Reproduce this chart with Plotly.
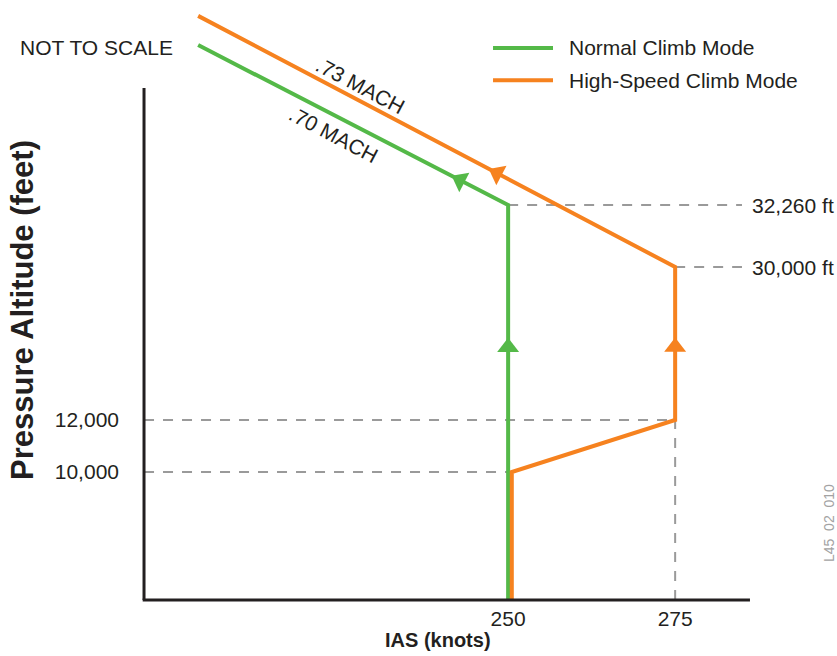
import numpy as np
import plotly.graph_objects as go

# ---------------------------------------------------------------- data
ias_ticks = [250, 275]
ias_tick_labels = ["250", "275"]

alt_ticks = [10000, 12000]
alt_tick_labels = ["10,000", "12,000"]

alt_callouts = [32260, 30000]
alt_callout_labels = ["32,260 ft", "30,000 ft"]

# Normal climb: 250 kt up to the 0.70 Mach crossover, then constant Mach
normal_ias = [250, 250, 203.6]
normal_alt = [0, 32260, 38300]

# High-speed climb: 250 kt to 10,000 ft, accelerate to 275 kt by 12,000 ft,
# 275 kt to the 0.73 Mach crossover, then constant Mach
high_ias = [250, 250, 275, 275, 203.6]
high_alt = [0, 10000, 12000, 30000, 39400]

mach_labels = [".70 MACH", ".73 MACH"]
series_names = ["Normal Climb Mode", "High-Speed Climb Mode"]

# ---------------------------------------------------------------- styling
GREEN = "#54B948"
ORANGE = "#F6821F"
INK = "#231F20"
GUIDE = "#9A9A9A"
FONT = "Liberation Sans, Arial, Helvetica, sans-serif"
LINE_W = 4
ARROW_SIZE = 19

W, H = 837, 656
MARGIN = dict(l=134, r=75, t=0, b=44)

# The altitude axis is deliberately not to scale: piecewise-linear
# drawing heights for the altitude breakpoints.
SKETCH_ALT = [0, 10000, 12000, 30000, 32260, 40000]
SKETCH_H = [0, 128, 180, 333, 395, 600]


def sy(alt):
    return np.interp(alt, SKETCH_ALT, SKETCH_H)


X_RANGE = [194, 288]
Y_RANGE = [-12, 600]
AXIS_X = 195.5        # where the vertical axis line sits
X_AXIS_END = 286.2    # right end of the horizontal axis line
Y_AXIS_TOP = 512      # top of the vertical axis line (drawing units)
CALLOUT_X = 285       # right end of the callout guides
SIDE_OFFSET = 0.55    # keeps the two 250 kt legs side by side

# screen pixels per data unit, used to orient the arrow heads
PX_X = (W - MARGIN["l"] - MARGIN["r"]) / (X_RANGE[1] - X_RANGE[0])
PX_Y = (H - MARGIN["t"] - MARGIN["b"]) / (Y_RANGE[1] - Y_RANGE[0])

nx = np.array(normal_ias, dtype=float)
ny = sy(normal_alt)
hx = np.array([v + SIDE_OFFSET if i < 2 else v for i, v in enumerate(high_ias)], dtype=float)
hy = sy(high_alt)

fig = go.Figure()

fig.add_trace(go.Scatter(x=nx, y=ny, mode="lines", name=series_names[0],
                         line=dict(color=GREEN, width=LINE_W), showlegend=False))
fig.add_trace(go.Scatter(x=hx, y=hy, mode="lines", name=series_names[1],
                         line=dict(color=ORANGE, width=LINE_W), showlegend=False))


def arrow_head(xs, ys, i, frac, color):
    """Triangle on segment i -> i+1, pointing along the direction of travel."""
    x0, y0, x1, y1 = xs[i], ys[i], xs[i + 1], ys[i + 1]
    px = x0 + (x1 - x0) * frac
    py = y0 + (y1 - y0) * frac
    ang = np.degrees(np.arctan2((x1 - x0) * PX_X, (y1 - y0) * PX_Y))
    fig.add_trace(go.Scatter(
        x=[px], y=[py], mode="markers", showlegend=False, hoverinfo="skip",
        marker=dict(symbol="triangle-up", size=ARROW_SIZE, color=color, opacity=1,
                    angle=float(ang), line=dict(width=0)),
    ))


arrow_head(nx, ny, 0, 0.64, GREEN)
arrow_head(nx, ny, 1, 0.155, GREEN)
arrow_head(hx, hy, 2, 0.477, ORANGE)
arrow_head(hx, hy, 3, 0.373, ORANGE)

shapes = []


def guide(x0, y0, x1, y1):
    shapes.append(dict(type="line", xref="x", yref="y", x0=x0, y0=y0, x1=x1, y1=y1,
                       layer="below", line=dict(color=GUIDE, width=2, dash="10px,9px")))


# dashed reference lines
guide(AXIS_X, sy(alt_ticks[0]), normal_ias[0], sy(alt_ticks[0]))
guide(AXIS_X, sy(alt_ticks[1]), high_ias[2], sy(alt_ticks[1]))
guide(ias_ticks[1], 0, ias_ticks[1], sy(alt_ticks[1]))
guide(normal_ias[1], sy(alt_callouts[0]), CALLOUT_X, sy(alt_callouts[0]))
guide(high_ias[3], sy(alt_callouts[1]), CALLOUT_X, sy(alt_callouts[1]))

# axis lines
shapes.append(dict(type="line", xref="x", yref="y", x0=AXIS_X - 0.2, y0=0, x1=X_AXIS_END, y1=0,
                   line=dict(color=INK, width=3)))
shapes.append(dict(type="line", xref="x", yref="y", x0=AXIS_X, y0=0, x1=AXIS_X, y1=Y_AXIS_TOP,
                   line=dict(color=INK, width=3)))

# legend keys
LEG_Y = [0.9216, 0.869]
for color, ypos in zip([GREEN, ORANGE], LEG_Y):
    shapes.append(dict(type="line", xref="paper", yref="paper", x0=0.5717, x1=0.6672,
                       y0=ypos, y1=ypos, line=dict(color=color, width=LINE_W)))

annotations = []


def label(text, x, y, size=21, xref="paper", yref="paper", **kw):
    d = dict(xref=xref, yref=yref, x=x, y=y, text=text, showarrow=False,
             xanchor=kw.pop("xanchor", "center"), yanchor=kw.pop("yanchor", "middle"),
             font=dict(size=size, color=kw.pop("color", INK), family=FONT))
    d.update(kw)
    annotations.append(d)


for name, ypos in zip(series_names, LEG_Y):
    label(name, 0.6895, ypos, xanchor="left")

# altitude callouts
for alt, lab in zip(alt_callouts, alt_callout_labels):
    label(lab, CALLOUT_X, float(sy(alt)), xref="x", yref="y", xanchor="left", xshift=8)

# Mach labels along the constant-Mach legs
MACH_ANGLE = 27.8
f70, f73 = 0.537, 0.674
label(mach_labels[0], nx[1] + (nx[2] - nx[1]) * f70, ny[1] + (ny[2] - ny[1]) * f70,
      xref="x", yref="y", textangle=MACH_ANGLE, xshift=-8.4, yshift=-15.9)
label(mach_labels[1], hx[3] + (hx[4] - hx[3]) * f73, hy[3] + (hy[4] - hy[3]) * f73,
      xref="x", yref="y", textangle=MACH_ANGLE, xshift=6.5, yshift=12.4)

# titles and notes
label("<b>Pressure Altitude (feet)</b>", -0.1768, 0.4935, size=31, textangle=-90)
label("<b>IAS (knots)</b>", 0.4833, -0.0458, size=20)
label("NOT TO SCALE", -0.1847, 0.923, xanchor="left")
label("L45\u00a0\u00a002\u00a0\u00a0010", 1.1067, 0.1454, size=14,
      color="#A3A3A3", textangle=-90)

fig.update_layout(
    width=W, height=H,
    margin=MARGIN,
    paper_bgcolor="white", plot_bgcolor="white",
    font=dict(family=FONT, color=INK, size=21),
    xaxis=dict(range=X_RANGE, showgrid=False, zeroline=False, showline=False,
               tickvals=ias_ticks, ticktext=ias_tick_labels, ticks="",
               ticklabelstandoff=-8,
               tickfont=dict(size=21, color=INK, family=FONT), fixedrange=True),
    yaxis=dict(range=Y_RANGE, showgrid=False, zeroline=False, showline=False,
               tickvals=[float(sy(a)) for a in alt_ticks], ticktext=alt_tick_labels, ticks="",
               ticklabelstandoff=14,
               tickfont=dict(size=21, color=INK, family=FONT), fixedrange=True),
    shapes=shapes,
    annotations=annotations,
    hovermode=False,
)

fig.write_html("out.html")
